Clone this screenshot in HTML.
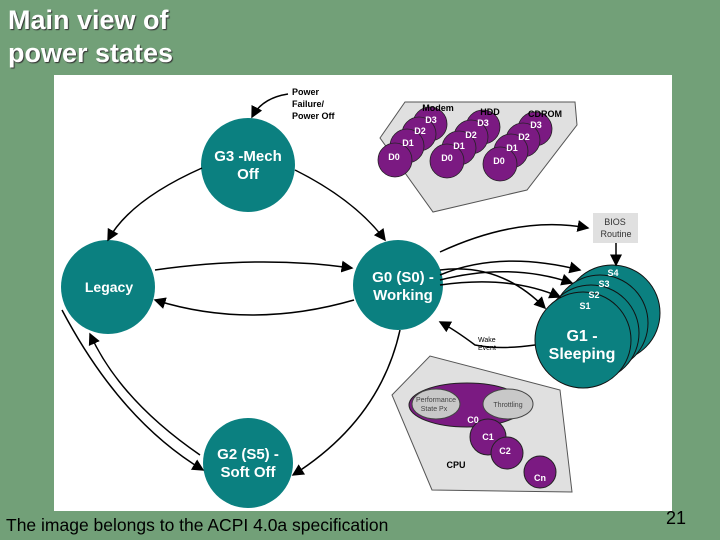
<!DOCTYPE html>
<html><head><style>
html,body{margin:0;padding:0;}
body{width:720px;height:540px;background:#72a078;position:relative;overflow:hidden;font-family:"Liberation Sans",sans-serif;}
.t{position:absolute;left:8px;top:4px;color:#fff;font-weight:bold;font-size:27px;line-height:33px;text-shadow:1px 1px 1px #333;}
.f{position:absolute;left:6px;top:515px;font-size:17.5px;color:#000;}
.n{position:absolute;left:666px;top:508px;font-size:18px;color:#000;}
</style></head><body>
<div class="t">Main view of<br>power states</div>
<svg width="720" height="540" style="position:absolute;left:0;top:0">
<defs><marker id="a" markerWidth="8" markerHeight="8" refX="7" refY="4" orient="auto"><path d="M0,0 L8,4 L0,8 z" fill="#000"/></marker></defs>
<rect x="54" y="75" width="618" height="436" fill="#fff"/>
<g font-family="Liberation Sans,sans-serif" font-weight="bold" fill="#fff" text-anchor="middle">
<polygon points="380,138 405,102 575,102 577,125 527,190 433,212" fill="#e0e0e0" stroke="#555"/>
<g stroke="#222" stroke-width="0.8" fill="#7b1a82">
<circle cx="430" cy="124" r="17"/><circle cx="419" cy="134" r="17"/><circle cx="407" cy="146" r="17"/><circle cx="395" cy="160" r="17"/>
<circle cx="483" cy="127" r="17"/><circle cx="471" cy="137" r="17"/><circle cx="459" cy="148" r="17"/><circle cx="447" cy="161" r="17"/>
<circle cx="535" cy="129" r="17"/><circle cx="523" cy="140" r="17"/><circle cx="511" cy="151" r="17"/><circle cx="500" cy="164" r="17"/>
</g>
<g font-size="9"><text x="431" y="123">D3</text><text x="420" y="134">D2</text><text x="408" y="146">D1</text><text x="394" y="160">D0</text>
<text x="483" y="126">D3</text><text x="471" y="138">D2</text><text x="459" y="149">D1</text><text x="447" y="161">D0</text>
<text x="536" y="128">D3</text><text x="524" y="140">D2</text><text x="512" y="151">D1</text><text x="499" y="164">D0</text></g>
<g fill="#000" font-size="9"><text x="438" y="111">Modem</text><text x="490" y="115">HDD</text><text x="545" y="117">CDROM</text></g>
<polygon points="392,395 430,356 560,390 572,492 432,490" fill="#e0e0e0" stroke="#555"/>
<ellipse cx="467" cy="405" rx="58" ry="22" fill="#7b1a82" stroke="#222"/>
<ellipse cx="436" cy="404" rx="24" ry="15" fill="#c8c8c8" stroke="#444"/>
<ellipse cx="508" cy="404" rx="25" ry="15" fill="#c8c8c8" stroke="#444"/>
<circle cx="488" cy="437" r="18" fill="#7b1a82" stroke="#222"/>
<circle cx="507" cy="453" r="16" fill="#7b1a82" stroke="#222"/>
<circle cx="540" cy="472" r="16" fill="#7b1a82" stroke="#222"/>
<g fill="#444" font-weight="normal" font-size="7"><text x="436" y="402">Performance</text><text x="434" y="411">State Px</text><text x="508" y="407">Throttling</text></g>
<text x="473" y="423" font-size="9">C0</text><text x="488" y="440" font-size="9">C1</text><text x="505" y="454" font-size="9">C2</text><text x="540" y="481" font-size="9">Cn</text>
<text x="456" y="468" font-size="9" fill="#000">CPU</text>
<rect x="593" y="213" width="45" height="30" fill="#e0e0e0"/>
<g fill="#333" font-weight="normal" font-size="9"><text x="615" y="225">BIOS</text><text x="616" y="237">Routine</text></g>
<g fill="#0b8080" stroke="#111">
<circle cx="612" cy="313" r="48"/><circle cx="600" cy="323" r="48"/><circle cx="591" cy="333" r="48"/><circle cx="583" cy="340" r="48"/>
</g>
<g font-size="9"><text x="613" y="276">S4</text><text x="604" y="287">S3</text><text x="594" y="298">S2</text><text x="585" y="309">S1</text></g>
<text x="582" y="341" font-size="16">G1 -</text><text x="582" y="359" font-size="16">Sleeping</text>
<g fill="#0b8080"><circle cx="248" cy="165" r="47"/><circle cx="108" cy="287" r="47"/><circle cx="398" cy="285" r="45"/><circle cx="248" cy="463" r="45"/></g>
<g font-size="15"><text x="248" y="161">G3 -Mech</text><text x="248" y="179">Off</text>
<text x="109" y="292" font-size="14">Legacy</text>
<text x="403" y="282">G0 (S0) -</text><text x="403" y="300">Working</text>
<text x="248" y="459">G2 (S5) -</text><text x="248" y="477">Soft Off</text></g>
<g fill="#000" font-size="9" text-anchor="start"><text x="292" y="95">Power</text><text x="292" y="107">Failure/</text><text x="292" y="119">Power Off</text>
<text x="478" y="342" font-weight="normal" font-size="7">Wake</text><text x="478" y="350" font-weight="normal" font-size="7">Event</text></g>
</g>
<g fill="none" stroke="#000" stroke-width="1.5" marker-end="url(#a)">
<path d="M288,94 Q262,98 252,117"/>
<path d="M202,168 Q130,200 108,240"/>
<path d="M295,170 Q355,200 385,240"/>
<path d="M155,270 Q260,255 352,268"/>
<path d="M354,300 Q250,330 155,300"/>
<path d="M62,310 Q120,420 203,470"/>
<path d="M400,330 Q380,420 293,475"/>
<path d="M200,455 Q120,400 90,334"/>
<path d="M440,252 Q520,215 588,228"/>
<path d="M616,243 L616,265"/>
<path d="M440,275 Q500,250 580,270"/>
<path d="M440,280 Q510,262 572,283"/>
<path d="M440,285 Q510,275 560,297"/>
<path d="M440,270 Q500,262 545,308"/>
<path d="M535,345 Q500,350 475,345 Q455,330 440,322"/>
</g>
</svg>
<div class="f">The image belongs to the ACPI 4.0a specification</div>
<div class="n">21</div>
</body></html>
